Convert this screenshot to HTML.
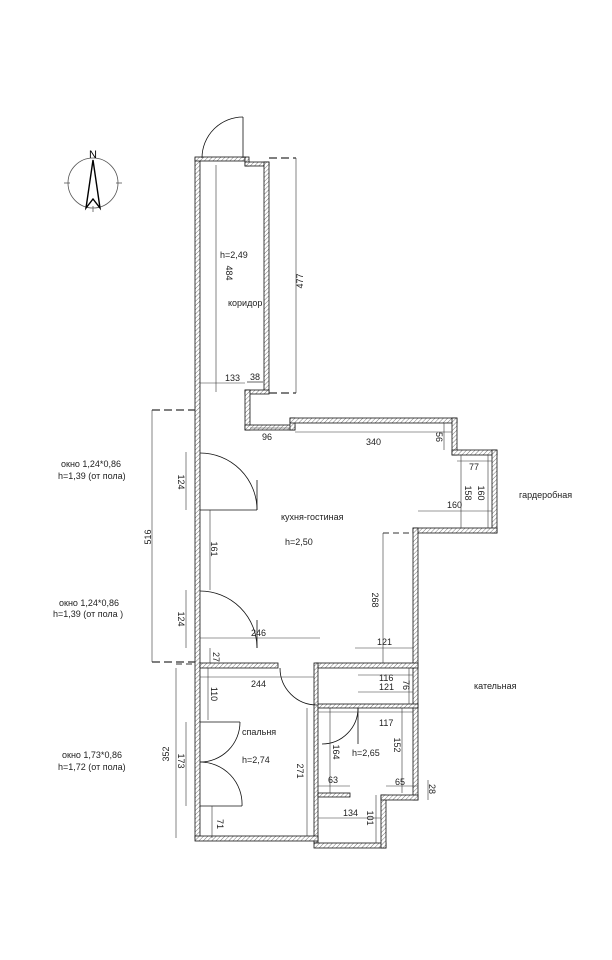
<!DOCTYPE html>
<html><head><meta charset="utf-8"><style>
html,body{margin:0;padding:0;background:#fff;}
svg{display:block;}
text{font-family:"Liberation Sans",sans-serif;font-size:9px;fill:#222;}
</style></head><body>
<svg width="612" height="960" viewBox="0 0 612 960" xmlns="http://www.w3.org/2000/svg">
<defs>
<pattern id="h" width="3" height="3" patternUnits="userSpaceOnUse" patternTransform="rotate(45)">
<rect width="3" height="3" fill="#fff"/><line x1="0" y1="0" x2="0" y2="3" stroke="#777" stroke-width="1"/>
</pattern>
</defs>
<g fill="url(#h)" stroke="#111" stroke-width="0.8">
<rect x="195" y="158" width="5" height="680"/>
<rect x="195" y="157" width="50" height="4"/>
<rect x="245" y="157" width="4" height="9"/>
<rect x="245" y="162" width="24" height="4"/>
<rect x="264" y="162" width="5" height="231"/>
<rect x="245" y="390" width="24" height="4"/>
<rect x="245" y="390" width="5" height="40"/>
<rect x="245" y="425" width="50" height="5"/>
<rect x="290" y="418" width="5" height="12"/>
<rect x="290" y="418" width="167" height="5"/>
<rect x="452" y="418" width="5" height="37"/>
<rect x="452" y="450" width="45" height="5"/>
<rect x="492" y="450" width="5" height="83"/>
<rect x="413" y="528" width="84" height="5"/>
<rect x="413" y="528" width="5" height="272"/>
<rect x="200" y="663" width="78" height="5"/>
<rect x="316" y="663" width="102" height="5"/>
<rect x="314" y="663" width="4" height="180"/>
<rect x="195" y="836" width="123" height="5"/>
<rect x="314" y="843" width="72" height="5"/>
<rect x="381" y="795" width="5" height="53"/>
<rect x="381" y="795" width="37" height="5"/>
<rect x="318" y="704" width="100" height="4"/>
<rect x="318" y="793" width="32" height="4"/>
</g>
<g fill="none" stroke="#111" stroke-width="0.8">
<!-- entrance door -->
<line x1="243" y1="117" x2="243" y2="158"/>
<path d="M243 117 A41 41 0 0 0 202 158"/>
<!-- kitchen windows -->
<path d="M200 453 A57 57 0 0 1 257 510"/><line x1="257" y1="480" x2="257" y2="510"/>
<line x1="200" y1="510" x2="257" y2="510"/>
<path d="M200 591 A57 57 0 0 1 257 648"/><line x1="257" y1="620" x2="257" y2="648"/>
<!-- bedroom window -->
<path d="M240 722 A40 40 0 0 1 200 762"/><line x1="200" y1="722" x2="240" y2="722"/>
<path d="M200 762 A42 42 0 0 1 242 806"/><line x1="200" y1="806" x2="242" y2="806"/>
<!-- bedroom door -->
<path d="M280 668 A37 37 0 0 0 317 705"/>
<!-- bath door -->
<path d="M322 744 A36 36 0 0 0 358 708"/><line x1="358" y1="708" x2="358" y2="744"/>
</g>
<g fill="none" stroke="#333" stroke-width="0.6">
<line x1="216" y1="165" x2="216" y2="392"/>
<line x1="296" y1="158" x2="296" y2="393"/>
<line x1="269" y1="158" x2="296" y2="158" stroke-dasharray="8,4" stroke-width="1.2"/>
<line x1="269" y1="393" x2="296" y2="393" stroke-dasharray="8,4" stroke-width="1.2"/>
<line x1="200" y1="383" x2="245" y2="383"/><line x1="247" y1="382" x2="264" y2="382" stroke="#999" stroke-width="1.5"/>
<line x1="250" y1="428" x2="290" y2="428"/>
<line x1="295" y1="432" x2="452" y2="432"/>
<line x1="444" y1="423" x2="444" y2="450"/>
<line x1="457" y1="461" x2="492" y2="461"/>
<line x1="461" y1="455" x2="461" y2="528"/>
<line x1="488" y1="455" x2="488" y2="528"/>
<line x1="418" y1="511" x2="492" y2="511"/>
<line x1="383" y1="533" x2="383" y2="663"/>
<line x1="383" y1="533" x2="413" y2="533" stroke-dasharray="6,4" stroke-width="1.1"/>
<line x1="152" y1="410" x2="152" y2="662"/>
<line x1="152" y1="410" x2="195" y2="410" stroke-dasharray="8,4" stroke-width="1.2"/>
<line x1="152" y1="662" x2="195" y2="662" stroke-dasharray="8,4" stroke-width="1.2"/>
<line x1="186" y1="452" x2="186" y2="510"/>
<line x1="210" y1="510" x2="210" y2="590"/>
<line x1="186" y1="590" x2="186" y2="648"/>
<line x1="200" y1="638" x2="320" y2="638"/>
<line x1="355" y1="648" x2="413" y2="648"/>
<line x1="210" y1="648" x2="210" y2="663"/>
<line x1="176" y1="668" x2="176" y2="838"/>
<line x1="176" y1="664" x2="195" y2="664" stroke-dasharray="6,4" stroke-width="1.1"/>
<line x1="200" y1="677" x2="314" y2="677"/>
<line x1="208" y1="668" x2="208" y2="720"/>
<line x1="186" y1="722" x2="186" y2="806"/>
<line x1="212" y1="806" x2="212" y2="838"/>
<line x1="307" y1="708" x2="307" y2="836"/>
<line x1="358" y1="675" x2="413" y2="675"/>
<line x1="358" y1="692" x2="413" y2="692"/>
<line x1="409" y1="668" x2="409" y2="704"/>
<line x1="318" y1="712" x2="413" y2="712"/>
<line x1="402" y1="708" x2="402" y2="793"/>
<line x1="330" y1="708" x2="330" y2="793"/>
<line x1="318" y1="786" x2="350" y2="786"/>
<line x1="386" y1="786" x2="418" y2="786"/>
<line x1="428" y1="780" x2="428" y2="800"/>
<line x1="318" y1="818" x2="381" y2="818"/>
<line x1="376" y1="795" x2="376" y2="843"/>
</g>
<!-- compass -->
<g fill="none" stroke="#555" stroke-width="0.8">
<circle cx="93" cy="183" r="25"/>
<line x1="64" y1="183" x2="70" y2="183"/><line x1="116" y1="183" x2="122" y2="183"/><line x1="93" y1="206" x2="93" y2="212"/>
</g>
<path d="M93 160 L86 208 L93 199 L100 208 Z" fill="none" stroke="#000" stroke-width="1.4"/>
<text x="93" y="158" text-anchor="middle" style="font-size:11px;fill:#000">N</text>
<g>
<text x="220" y="258">h=2,49</text>
<text x="228" y="306">коридор</text>
<text x="225" y="372" transform="rotate(0)"> </text>
<text x="226" y="273" transform="rotate(90 226 273)" text-anchor="middle">484</text>
<text x="303" y="281" transform="rotate(-90 303 281)" text-anchor="middle">477</text>
<text x="225" y="381">133</text><text x="250" y="380">38</text>
<text x="262" y="440">96</text>
<text x="366" y="445">340</text>
<text x="436" y="437" transform="rotate(90 436 437)" text-anchor="middle">56</text>
<text x="469" y="470">77</text>
<text x="465" y="493" transform="rotate(90 465 493)" text-anchor="middle">158</text>
<text x="478" y="493" transform="rotate(90 478 493)" text-anchor="middle">160</text>
<text x="447" y="508">160</text>
<text x="519" y="498">гардеробная</text>
<text x="281" y="520">кухня-гостиная</text>
<text x="285" y="545">h=2,50</text>
<text x="372" y="600" transform="rotate(90 372 600)" text-anchor="middle">268</text>
<text x="178" y="482" transform="rotate(90 178 482)" text-anchor="middle">124</text>
<text x="211" y="549" transform="rotate(90 211 549)" text-anchor="middle">161</text>
<text x="178" y="619" transform="rotate(90 178 619)" text-anchor="middle">124</text>
<text x="251" y="636">246</text>
<text x="377" y="645">121</text>
<text x="213" y="657" transform="rotate(90 213 657)" text-anchor="middle">27</text>
<text x="151" y="537" transform="rotate(-90 151 537)" text-anchor="middle">516</text>
<text x="61" y="467">окно 1,24*0,86</text>
<text x="58" y="479">h=1,39 (от пола)</text>
<text x="59" y="606">окно 1,24*0,86</text>
<text x="53" y="617">h=1,39 (от пола )</text>
<text x="62" y="758">окно 1,73*0,86</text>
<text x="58" y="770">h=1,72 (от пола)</text>
<text x="474" y="689">кательная</text>
<text x="251" y="687">244</text>
<text x="211" y="694" transform="rotate(90 211 694)" text-anchor="middle">110</text>
<text x="379" y="681">116</text>
<text x="379" y="690">121</text>
<text x="403" y="685" transform="rotate(90 403 685)" text-anchor="middle">76</text>
<text x="379" y="726">117</text>
<text x="394" y="745" transform="rotate(90 394 745)" text-anchor="middle">152</text>
<text x="333" y="752" transform="rotate(90 333 752)" text-anchor="middle">164</text>
<text x="352" y="756">h=2,65</text>
<text x="242" y="735">спальня</text>
<text x="242" y="763">h=2,74</text>
<text x="297" y="771" transform="rotate(90 297 771)" text-anchor="middle">271</text>
<text x="178" y="761" transform="rotate(90 178 761)" text-anchor="middle">173</text>
<text x="169" y="754" transform="rotate(-90 169 754)" text-anchor="middle">352</text>
<text x="328" y="783">63</text>
<text x="395" y="785">65</text>
<text x="429" y="789" transform="rotate(90 429 789)" text-anchor="middle">28</text>
<text x="343" y="816">134</text>
<text x="367" y="818" transform="rotate(90 367 818)" text-anchor="middle">101</text>
<text x="217" y="824" transform="rotate(90 217 824)" text-anchor="middle">71</text>
</g>
</svg>
</body></html>
